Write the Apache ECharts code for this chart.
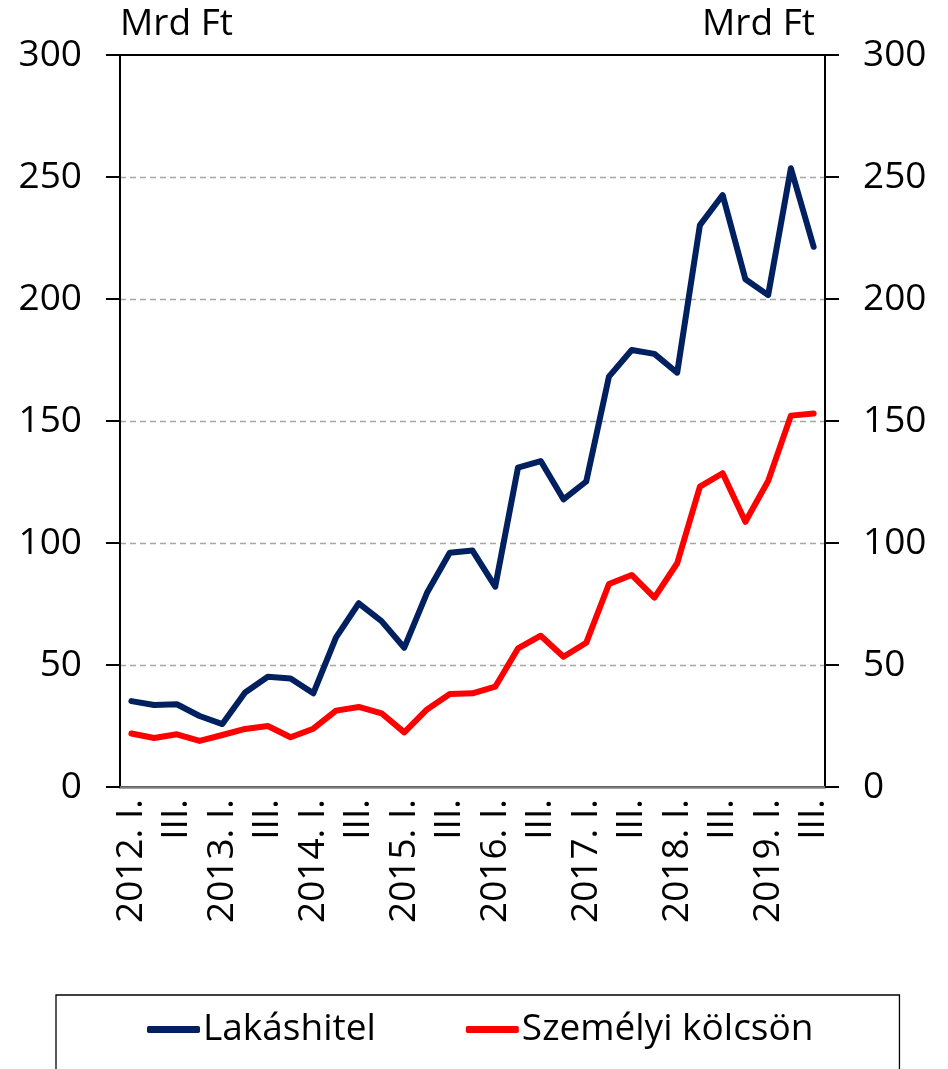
<!DOCTYPE html>
<html>
<head>
<meta charset="utf-8">
<script src="https://cdn.jsdelivr.net/npm/echarts@6/dist/echarts.min.js"></script>
<style>
  html, body { margin: 0; padding: 0; background: #fff; }
  #chart { width: 948px; height: 1069px; }
</style>
</head>
<body>
<div id="chart"></div>
<script>
// negyedéves adatok, 2012. I. - 2019. III.
var quarters = [];
for (var y = 2012; y <= 2019; y++) {
    for (var q = 1; q <= 4; q++) {
        if (y == 2019 && q > 3) break;
        quarters.push(y + '. ' + ['I.', 'II.', 'III.', 'IV.'][q - 1]);
    }
}
var lakashitel = [35.2, 33.6, 33.9, 29.1, 25.8, 38.7, 45.2, 44.5, 38.4, 61.3, 75.3, 68.0, 57.1, 79.6, 96.0, 96.9,
    82.1, 130.9, 133.6, 117.9, 125.2, 168.2, 179.1, 177.5, 169.8, 230.3, 242.6, 208.1, 201.6, 253.6, 221.4];
var szemelyi = [21.9, 20.1, 21.6, 18.9, 21.3, 23.8, 25.0, 20.4, 23.9, 31.3, 32.8, 30.2, 22.4, 31.8, 38.1, 38.4,
    41.1, 56.8, 62.0, 53.4, 59.1, 83.2, 86.9, 77.6, 91.7, 123.1, 128.6, 108.7, 125.4, 152.2, 153.1];
var seriesNames = ['Lakáshitel', 'Személyi kölcsön'];
var yTicks = [0, 50, 100, 150, 200, 250, 300];

var font = "'Liberation Sans Narrow', 'Open Sans', sans-serif";
var myChart = echarts.init(document.getElementById('chart'));

function yAxisDef(pos) {
    return {
        type: 'value',
        position: pos,
        min: yTicks[0],
        max: yTicks[yTicks.length - 1],
        interval: 50,
        name: 'Mrd Ft',
        nameLocation: 'end',
        nameGap: 12,
        nameTextStyle: {
            color: '#000', fontSize: 37, fontFamily: font,
            align: pos == 'left' ? 'left' : 'right', verticalAlign: 'bottom',
            padding: pos == 'left' ? [0, 0, 0, 0] : [0, 10, 0, 0]
        },
        axisLine: { show: true, lineStyle: { color: '#000', width: 2 } },
        axisTick: { show: true, inside: false, length: 14, lineStyle: { color: '#000', width: 2 } },
        axisLabel: { color: '#000', fontSize: 37, fontFamily: font, margin: 38 },
        splitLine: pos == 'left' ? {
            show: true, showMinLine: false, showMaxLine: false,
            lineStyle: { color: '#a6a6a6', type: [6, 4], width: 1.3 }
        } : { show: false }
    };
}

var option = {
    backgroundColor: '#fff',
    animation: false,
    // keret: a felső fekete vonal innen jön
    grid: { left: 120, right: 123, top: 55, bottom: 282, show: true, borderColor: '#000', borderWidth: 2 },
    legend: {
        data: seriesNames,
        left: 56,
        top: 995,
        padding: [16, 86, 40, 91],
        itemGap: 90,
        itemWidth: 53,
        itemHeight: 7,
        icon: 'roundRect',
        borderColor: '#000',
        borderWidth: 1.3,
        textStyle: { color: '#000', fontSize: 37, fontFamily: font, padding: [0, 0, 0, -2] }
    },
    xAxis: {
        type: 'category',
        data: quarters,
        boundaryGap: true,
        axisLine: { show: true, onZero: false, lineStyle: { color: '#808080', width: 2.5 } },
        axisTick: { show: false },
        axisLabel: {
            interval: 0,
            rotate: 90,
            margin: 12,
            color: '#000',
            fontSize: 37,
            fontFamily: font,
            formatter: function (v, i) {
                if (i % 4 == 0) return v;
                if (i % 4 == 2) return 'III.';
                return '';
            }
        },
        splitLine: { show: false }
    },
    yAxis: [yAxisDef('left'), yAxisDef('right')],
    series: [
        {
            name: seriesNames[0],
            type: 'line',
            data: lakashitel,
            symbol: 'none',
            color: '#002060',
            lineStyle: { width: 6, color: '#002060', cap: 'round', join: 'round' },
            z: 3
        },
        {
            name: seriesNames[1],
            type: 'line',
            data: szemelyi,
            symbol: 'none',
            color: '#ff0000',
            lineStyle: { width: 6, color: '#ff0000', cap: 'round', join: 'round' },
            z: 2
        }
    ]
};

myChart.setOption(option);
</script>
</body>
</html>
